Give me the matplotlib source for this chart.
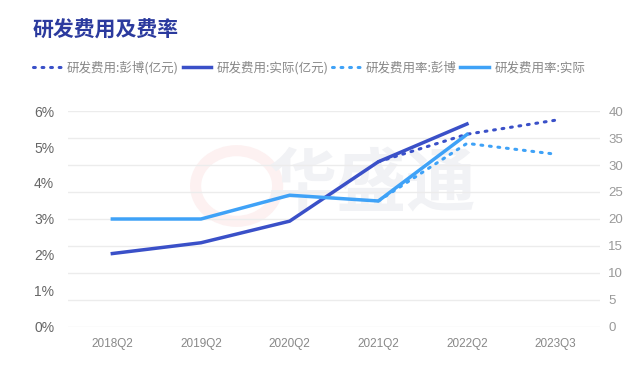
import matplotlib
matplotlib.use("Agg")
import matplotlib.pyplot as plt
from matplotlib.patches import Ellipse
import numpy as np

plt.rcParams['font.family'] = ['Noto Sans CJK SC', 'DejaVu Sans']

categories = ["2018Q2", "2019Q2", "2020Q2", "2021Q2", "2022Q2", "2023Q3"]
# R&D expense (100m yuan), right axis
expense_actual = [13.6, 15.6, 19.6, 30.6, 37.6, None]
expense_pengbo = [None, None, None, 30.6, 35.7, 38.3]
# R&D expense rate (%), left axis
rate_actual = [3.0, 3.0, 3.66, 3.5, 5.35, None]
rate_pengbo = [None, None, None, 3.5, 5.1, 4.8]

dark = "#3a50c8"
light = "#3fa2f7"


def clean(vals):
    return np.array([np.nan if v is None else v for v in vals], dtype=float)


fig = plt.figure(figsize=(6.31, 3.72), dpi=100)
ax = fig.add_axes([0.1078, 0.121, 0.843, 0.5806])
ax2 = ax.twinx()

x = np.arange(len(categories))

# watermark, behind everything
fig.text(0.59, 0.50, "华盛通", fontsize=50, fontweight="bold", color="#f1f2f5",
         ha="center", va="center", zorder=-5)
fig.patches.append(Ellipse((0.375, 0.50), 0.13, 0.19, transform=fig.transFigure,
                           fill=False, lw=8, ec="#fdf1f1", zorder=-5))

l1, = ax2.plot(x, clean(expense_pengbo), color=dark, lw=2.2, ls=(0, (0.6, 2.2)),
               dash_capstyle="round", zorder=3)
l2, = ax2.plot(x, clean(expense_actual), color=dark, lw=2.5, zorder=4)
l3, = ax.plot(x, clean(rate_pengbo), color=light, lw=2.2, ls=(0, (0.6, 2.2)),
              dash_capstyle="round", zorder=3)
l4, = ax.plot(x, clean(rate_actual), color=light, lw=2.5, zorder=4)

ax.set_xlim(-0.5, len(categories) - 0.5)
ax.set_ylim(0, 6)
ax.set_yticks(range(0, 7))
ax.set_yticklabels([f"{i}%" for i in range(0, 7)])
ax2.set_ylim(0, 40)
ax2.set_yticks(range(0, 41, 5))
ax2.grid(axis="y", color="#ececec", lw=1)
ax2.set_axisbelow(True)
ax.set_zorder(ax2.get_zorder() + 1)
ax.patch.set_visible(False)
ax2.patch.set_visible(False)

ax.set_xticks(x)
ax.set_xticklabels(categories)

for a in (ax, ax2):
    for s in a.spines.values():
        s.set_visible(False)
ax.tick_params(axis="x", length=0, labelsize=8.5, colors="#888888", pad=8)
ax.tick_params(axis="y", length=0, labelsize=10, colors="#666666", pad=10)
ax2.tick_params(axis="y", length=0, labelsize=9.5, colors="#999999", pad=6)
for lab in ax.get_xticklabels() + ax.get_yticklabels() + ax2.get_yticklabels():
    lab.set_family(["Liberation Sans", "DejaVu Sans"])

fig.text(0.052, 0.918, "研发费用及费率", fontsize=15, fontweight="bold",
         color="#2b3a9e", ha="left", va="center")

leg = fig.legend([l1, l2, l3, l4],
                 ["研发费用:彭博(亿元)", "研发费用:实际(亿元)",
                  "研发费用率:彭博", "研发费用率:实际"],
                 loc="center left", bbox_to_anchor=(0.035, 0.818), ncol=4,
                 frameon=False, fontsize=9, handlelength=2.3, handletextpad=0.4,
                 columnspacing=0.3, labelcolor="#888888")

fig.savefig("out.png", dpi=100)
